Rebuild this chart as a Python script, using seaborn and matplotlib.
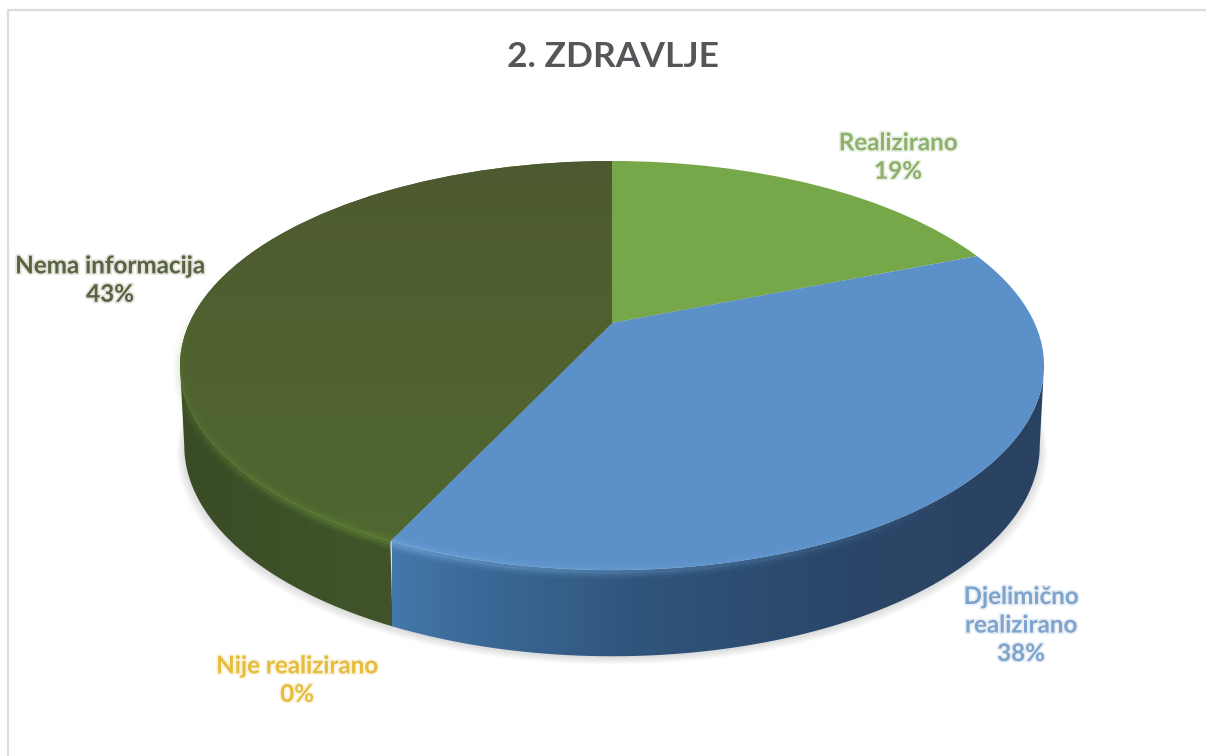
import numpy as np
import matplotlib
matplotlib.use("Agg")
import matplotlib.pyplot as plt
import seaborn as sns
import matplotlib.patheffects as pe
from matplotlib.collections import LineCollection
from matplotlib.colors import LinearSegmentedColormap
from matplotlib.patches import Polygon
from matplotlib.transforms import Transform

categories = ["Realizirano", "Djelimično realizirano", "Nije realizirano", "Nema informacija"]
values = [19, 38, 0, 43]
top_colors = ["#76a84a", "#5b90c8", "#e0b030", "#50602f"]
label_lines = ["Realizirano\n19%", "Djelimično\nrealizirano\n38%", "Nije realizirano\n0%", "Nema informacija\n43%"]
label_colors = ["#8db06a", "#7ea3cc", "#e6bc3c", "#596340"]
label_x = [898, 1021, 297, 110]
label_y = [157, 625, 680, 280]
title = "2. ZDRAVLJE"

# shape of the tilted disc, in pixels
CX, CY = 612, 323
A, B, K = 422.6, 195.7, 0.208
MID_Y, DROP, SX, SY = 365, 80, 0.99, 1.03


class Tilt(Transform):
    input_dims = 2
    output_dims = 2
    is_affine = False

    def __init__(self, level=0.0):
        super().__init__()
        self.level = level

    def transform_non_affine(self, xy):
        xy = np.asarray(xy, dtype=float)
        w = 1 + K * xy[:, 1]
        px = A * xy[:, 0] / w
        py = CY - B * xy[:, 1] / w
        # level 1 is the bottom face of the disc
        px = CX + px * (1 + (SX - 1) * self.level)
        py = MID_Y + DROP * self.level + (py - MID_Y) * (1 + (SY - 1) * self.level)
        return np.column_stack([px, py])


def rim(deg, level=0.0):
    # deg counted clockwise from the top of the pie
    rad = np.radians(deg)
    return Tilt(level).transform_non_affine(np.column_stack([np.sin(rad), np.cos(rad)]))


sns.set_theme(style="white")
plt.rcParams["font.family"] = ["Lato", "DejaVu Sans"]

fig = plt.figure(figsize=(12.06, 7.56), dpi=100, facecolor="white")
ax = fig.add_axes([0, 0, 1, 1])

edges = np.cumsum([0] + values) * 3.6

side_maps = {
    1: LinearSegmentedColormap.from_list("blue", [(0, "#4478aa"), (0.12, "#3c6a98"), (0.4, "#2f5379"), (0.7, "#2a4668"), (1, "#2a4261")]),
    3: LinearSegmentedColormap.from_list("olive", [(0, "#3a4c26"), (0.7, "#3f5229"), (1, "#40532a")]),
}
side_range = {1: (392, 1046), 3: (180, 398)}

wedges, _ = ax.pie(values, colors=top_colors, startangle=90, counterclock=False,
                   wedgeprops={"linewidth": 0})
ax.set_xlim(0, 1206)
ax.set_ylim(756, 0)
ax.set_aspect("auto")

# soft shadow below the disc
full = np.linspace(0, 360, 200)
for i in range(9):
    shade = rim(full, 1.0)
    shade = np.column_stack([CX + (shade[:, 0] - CX) * (1 + i * 0.0022), shade[:, 1] + 1 + i * 0.9])
    ax.add_patch(Polygon(shade, closed=True, fc="#707070", ec="none", alpha=0.028, zorder=1))

# side walls, cut at the widest point of the rim so the outline runs straight down there
fine = np.linspace(0, 360, 1441)
right_deg = fine[np.argmax(rim(fine)[:, 0])]
left_deg = fine[np.argmin(rim(fine)[:, 0])]
wall_span = {1: (right_deg, edges[2] + 0.4), 3: (edges[3], left_deg)}
for idx, cmap in side_maps.items():
    arc = np.linspace(*wall_span[idx], 160)
    outline = np.vstack([rim(arc, 0.0), rim(arc[::-1], 1.0)])
    wall = Polygon(outline, closed=True, fc="none", ec="none")
    ax.add_patch(wall)
    lo, hi = side_range[idx]
    grad = np.linspace(0, 1, 256).reshape(1, -1)
    im = ax.imshow(grad, cmap=cmap, extent=(lo, hi, 756, 0), aspect="auto", zorder=2 + 0.1 * (3 - idx))
    im.set_clip_path(wall)

# top faces of the slices
for wedge in wedges:
    wedge.set_transform(Tilt() + ax.transData)
    wedge.set_zorder(3)

# the large slice gets greener towards the front
olive = LinearSegmentedColormap.from_list("olive_top", ["#4d5a30", "#50612f", "#4f6731"])
im = ax.imshow(np.linspace(0, 1, 256).reshape(-1, 1), cmap=olive, extent=(170, 620, 545, 155),
               aspect="auto", zorder=3.1)
im.set_clip_path(wedges[3])

ax.set_xlim(0, 1206)
ax.set_ylim(756, 0)
ax.set_aspect("auto")

# lit edge where the top face meets the wall
glow = [("#7fb4e8", edges[2], 130, 0.9), ("#6f9a3a", edges[2], 285, 0.8)]
for color, start, stop, peak in glow:
    arc = np.linspace(start, stop, 90)
    pts = rim(arc)
    pts[:, 1] += 1.5
    segs = np.stack([pts[:-1], pts[1:]], axis=1)
    fade = peak * np.linspace(1, 0, len(segs)) ** 1.2
    for width, mult in [(11, 0.12), (7, 0.2), (3.5, 0.3)]:
        rgba = np.tile(matplotlib.colors.to_rgba(color), (len(segs), 1))
        rgba[:, 3] = fade * mult
        ax.add_collection(LineCollection(segs, colors=rgba, linewidths=width, zorder=4))

for name, color, x, y in zip(label_lines, label_colors, label_x, label_y):
    ax.text(x, y, name, color=color, ha="center", va="center", fontsize=17.4,
            fontweight="bold", linespacing=1.29, zorder=6,
            path_effects=[pe.withStroke(linewidth=2.5, foreground=color, alpha=0.18)])
ax.text(613, 57, title, color="#55565a", ha="center", va="center", fontsize=25.5,
        fontweight="bold", zorder=6)

# frame of the screenshot
ax.plot([8, 8, 1206], [756, 9.5, 9.5], color="#dcdcdc", lw=1.6, zorder=5)
ax.set_xlim(0, 1206)
ax.set_ylim(756, 0)
ax.axis("off")

fig.savefig("out.png", dpi=100, facecolor="white")
